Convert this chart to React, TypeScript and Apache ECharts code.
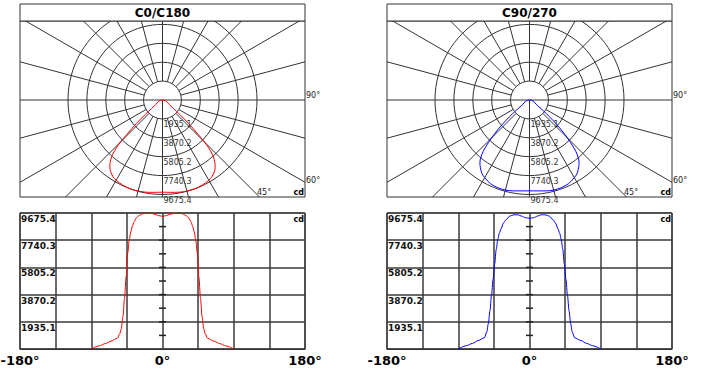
import React, { useEffect, useRef } from 'react';
import * as echarts from 'echarts';

// ---- data ----
const GAMMA = [0, 5, 10, 15, 20, 25, 30, 33, 36, 38, 40, 42, 44, 46, 48, 50, 52, 54, 57, 65, 72, 80, 90];
const C0_C180 = [9440, 9490, 9590, 9655, 9675, 9620, 9490, 9330, 9050, 8750, 8350, 7750, 6800, 5100, 3600, 2300, 1450, 1080, 760, 560, 390, 220, 0];
const C90_C270 = [9300, 9340, 9450, 9550, 9545, 9450, 9180, 8950, 8550, 8250, 7800, 7100, 6050, 4950, 3800, 2700, 1800, 1200, 800, 600, 400, 230, 0];

const I_MAX = 9675.4;
const RING_VALUES = [1935.08, 3870.16, 5805.24, 7740.32, 9675.4];
const RING_LABELS = ['1935.1', '3870.2', '5805.2', '7740.3', '9675.4'];
const Y_TICK_LABELS = ['', '1935.1', '3870.2', '5805.2', '7740.3', '9675.4'];
const X_LABEL_VALUES = [-180, 0, 180];
const X_LABELS = ['-180°', '0°', '180°'];
const RAY_ANGLES = [0, 15, 30, 45, 60, 75, 90, 105, 120, 135, 150, 165, 180, 195, 210, 225, 240, 255, 270, 285, 300, 315, 330, 345];
const CENTER_TICKS = [967.54, 1935.08, 2902.62, 3870.16, 4837.7, 5805.24, 6772.78, 7740.32, 8707.86];
const TITLES = ['C0/C180', 'C90/270'];
const ANGLE_LABELS = ['90°', '60°', '45°'];
const UNIT = 'cd';

// ---- layout ----
const FONT = 'DejaVu Sans';
const PANEL_LEFTS = [20, 387];
const COLORS = ['#ff0000', '#0000ff'];
const W = 285;
const TITLE_TOP = 4;
const POLAR_TOP = 21;
const POLAR_H = 176;
const POLAR_CY = 100;
const CART_TOP = 213;
const CART_H = 136;
const CD_PER_PX = I_MAX / 94.5;
const GRID_COLOR = '#333';

function buildOption() {
  const grids: any[] = [];
  const xAxes: any[] = [];
  const yAxes: any[] = [];
  const series: any[] = [];
  const graphics: any[] = [];

  const halfData = [C0_C180, C90_C270];

  PANEL_LEFTS.forEach((L, i) => {
    const pg = i * 2;
    const cg = i * 2 + 1;
    const values = halfData[i];

    // full curve from -90 to 90
    const full: [number, number][] = [];
    for (let k = GAMMA.length - 1; k > 0; k--) full.push([-GAMMA[k], values[k]]);
    for (let k = 0; k < GAMMA.length; k++) full.push([GAMMA[k], values[k]]);
    const polarPts = full.map(([a, v]) => {
      const r = (a * Math.PI) / 180;
      return [v * Math.sin(r), -v * Math.cos(r)];
    });

    // polar grid
    grids.push({
      left: L, top: POLAR_TOP, width: W, height: POLAR_H,
      show: true, borderColor: GRID_COLOR, borderWidth: 1, backgroundColor: 'transparent',
      containLabel: false, outerBoundsMode: 'none',
    });
    xAxes.push({
      type: 'value', gridIndex: pg, show: false,
      min: -(W / 2) * CD_PER_PX, max: (W / 2) * CD_PER_PX,
    });
    yAxes.push({
      type: 'value', gridIndex: pg, show: false,
      min: -(POLAR_TOP + POLAR_H - POLAR_CY) * CD_PER_PX,
      max: (POLAR_CY - POLAR_TOP) * CD_PER_PX,
    });

    // cartesian grid
    grids.push({
      left: L, top: CART_TOP, width: W, height: CART_H,
      show: true, borderColor: GRID_COLOR, borderWidth: 1, backgroundColor: 'transparent',
      containLabel: false, outerBoundsMode: 'none',
    });
    xAxes.push({
      type: 'value', gridIndex: cg, min: -180, max: 180, interval: 45,
      axisLine: { show: true, lineStyle: { color: GRID_COLOR, width: 1 } },
      axisTick: { show: false },
      splitLine: { show: true, lineStyle: { color: '#3a3a3a', width: 1.5 } },
      axisLabel: {
        show: true, margin: 5, fontSize: 13, fontWeight: 'bold', color: '#000', fontFamily: FONT,
        showMinLabel: true, showMaxLabel: true,
        formatter: (v: number) => {
          const idx = X_LABEL_VALUES.indexOf(Math.round(v));
          return idx >= 0 ? X_LABELS[idx] : '';
        },
      },
    });
    yAxes.push({
      type: 'value', gridIndex: cg, min: 0, max: I_MAX, interval: I_MAX / 5,
      axisLine: { show: false }, axisTick: { show: false },
      splitLine: { show: true, lineStyle: { color: '#3a3a3a', width: 1.5 } },
      axisLabel: {
        show: true, inside: true, margin: 1, fontSize: 9, fontWeight: 'bold', color: '#111',
        fontFamily: FONT, verticalAlign: 'top', lineHeight: 10, padding: [1, 0, 0, 0],
        showMinLabel: true, showMaxLabel: true,
        formatter: (v: number) => Y_TICK_LABELS[Math.round(v / (I_MAX / 5))] ?? '',
      },
    });

    // rings
    series.push({
      type: 'custom', xAxisIndex: pg, yAxisIndex: pg, clip: true, silent: true, z: 1,
      data: RING_VALUES.map((v) => [v, 0]),
      renderItem: (params: any, api: any) => {
        const c = api.coord([0, 0]);
        const r = api.size([api.value(0), 0])[0];
        return {
          type: 'circle',
          shape: { cx: c[0], cy: c[1], r },
          style: { fill: 'none', stroke: GRID_COLOR, lineWidth: 1 },
        };
      },
    });
    // rays
    series.push({
      type: 'custom', xAxisIndex: pg, yAxisIndex: pg, clip: true, silent: true, z: 1,
      data: RAY_ANGLES.map((a) => [a, 0]),
      renderItem: (params: any, api: any) => {
        const deg = api.value(0);
        const a = (deg * Math.PI) / 180;
        const r0 = deg === 0 || deg === 90 || deg === 270 ? 0 : RING_VALUES[0];
        const R = 40000;
        const p0 = api.coord([r0 * Math.sin(a), -r0 * Math.cos(a)]);
        const p1 = api.coord([R * Math.sin(a), -R * Math.cos(a)]);
        return {
          type: 'line',
          shape: { x1: p0[0], y1: p0[1], x2: p1[0], y2: p1[1] },
          style: { stroke: GRID_COLOR, lineWidth: 1 },
        };
      },
    });
    // ring labels
    series.push({
      type: 'custom', xAxisIndex: pg, yAxisIndex: pg, clip: false, silent: true, z: 4,
      data: RING_VALUES.map((v) => [v, 0]),
      renderItem: (params: any, api: any) => {
        const p = api.coord([0, -api.value(0)]);
        return {
          type: 'text',
          x: p[0] + 1,
          y: p[1] + 6,
          style: {
            text: RING_LABELS[params.dataIndex],
            fill: '#333', fontSize: 8, fontFamily: FONT,
            align: 'left', verticalAlign: 'middle',
          },
        };
      },
    });
    // polar curve
    series.push({
      type: 'line', xAxisIndex: pg, yAxisIndex: pg, data: polarPts,
      showSymbol: false, symbol: 'none', smooth: 0.3, z: 3,
      lineStyle: { color: COLORS[i], width: 1 },
    });
    // cartesian curve
    series.push({
      type: 'line', xAxisIndex: cg, yAxisIndex: cg, data: full,
      showSymbol: false, symbol: 'none', smooth: 0.3, smoothMonotone: 'x', z: 3,
      lineStyle: { color: COLORS[i], width: 1 },
    });
    // centre ticks
    series.push({
      type: 'custom', xAxisIndex: cg, yAxisIndex: cg, silent: true, z: 2,
      data: CENTER_TICKS.map((v) => [0, v]),
      renderItem: (params: any, api: any) => {
        const p = api.coord([0, api.value(1)]);
        return {
          type: 'line',
          shape: { x1: p[0] - 3.5, y1: p[1], x2: p[0] + 3.5, y2: p[1] },
          style: { stroke: '#222', lineWidth: 1.5 },
        };
      },
    });

    // title band
    graphics.push({
      type: 'rect', z: 10,
      shape: { x: L, y: TITLE_TOP, width: W, height: POLAR_TOP - TITLE_TOP },
      style: { fill: '#fff', stroke: GRID_COLOR, lineWidth: 1 },
    });
    graphics.push({
      type: 'text', z: 11, x: L + W / 2, y: (TITLE_TOP + POLAR_TOP) / 2 + 0.5,
      style: {
        text: TITLES[i], fill: '#000', fontSize: 12, fontWeight: 'bold', fontFamily: FONT,
        align: 'center', verticalAlign: 'middle',
      },
    });
    // angle labels
    const angleStyle = { fill: '#222', fontSize: 8, fontFamily: FONT, verticalAlign: 'middle' };
    graphics.push({ type: 'text', z: 11, x: L + W + 1, y: 95.5, style: { ...angleStyle, text: ANGLE_LABELS[0], align: 'left' } });
    graphics.push({ type: 'text', z: 11, x: L + W + 1, y: 180, style: { ...angleStyle, text: ANGLE_LABELS[1], align: 'left' } });
    graphics.push({ type: 'text', z: 11, x: L + 237, y: 192.5, style: { ...angleStyle, text: ANGLE_LABELS[2], align: 'left' } });
    // unit labels
    graphics.push({
      type: 'text', z: 11, x: L + W - 1, y: 192.5,
      style: { text: UNIT, fill: '#000', fontSize: 8, fontWeight: 'bold', fontFamily: FONT, align: 'right', verticalAlign: 'middle' },
    });
    graphics.push({
      type: 'text', z: 11, x: L + W - 1, y: 219.5,
      style: { text: UNIT, fill: '#000', fontSize: 8, fontWeight: 'bold', fontFamily: FONT, align: 'right', verticalAlign: 'middle' },
    });
  });

  return {
    animation: false,
    backgroundColor: '#fff',
    textStyle: { fontFamily: FONT },
    grid: grids,
    xAxis: xAxes,
    yAxis: yAxes,
    series,
    graphic: { elements: graphics },
  };
}

export default function App() {
  const ref = useRef<HTMLDivElement>(null);
  useEffect(() => {
    if (!ref.current) return;
    const chart = echarts.init(ref.current, undefined, { renderer: 'svg' });
    chart.setOption(buildOption() as any);
    return () => chart.dispose();
  }, []);
  return (
    <div
      ref={ref}
      style={{ position: 'fixed', left: 0, top: 0, width: 709, height: 375, background: '#fff' }}
    />
  );
}
